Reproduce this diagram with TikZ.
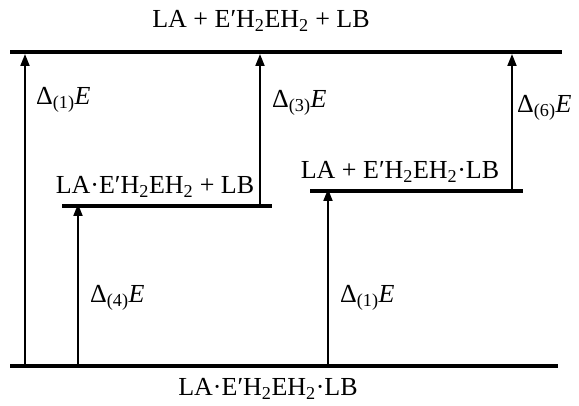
\documentclass[tikz,border=0pt]{standalone}
\usepackage{fontspec}
\setmainfont{Liberation Serif}
\usetikzlibrary{arrows.meta}
\newcommand{\sbs}[1]{\textsubscript{#1}}
\begin{document}
\begin{tikzpicture}[x=1pt,y=-1pt,
  level/.style={line width=3.5pt},
  trans/.style={line width=1.8pt,-{Triangle[length=12pt,width=9pt]}},
  lab/.style={font=\fontsize{26}{30}\selectfont,inner sep=0pt},
  elab/.style={font=\fontsize{26}{30}\selectfont,inner sep=0pt,anchor=west}]
\useasboundingbox (0,0) rectangle (579,406);
% levels
\coordinate (t1) at (10,52); \coordinate (t2) at (562,52);
\coordinate (b1) at (10,366); \coordinate (b2) at (558,366);
\coordinate (ml1) at (62,206); \coordinate (ml2) at (272,206);
\coordinate (mr1) at (310,191); \coordinate (mr2) at (523,191);
\draw[level] (t1) -- (t2);
\draw[level] (b1) -- (b2);
\draw[level] (ml1) -- (ml2);
\draw[level] (mr1) -- (mr2);
% arrow endpoints
\coordinate (a1s) at (25,364); \coordinate (a1e) at (25,54);
\coordinate (a4s) at (78,364); \coordinate (a4e) at (78,204);
\coordinate (a3s) at (260,204); \coordinate (a3e) at (260,54);
\coordinate (a1bs) at (328,364); \coordinate (a1be) at (328,189);
\coordinate (a6s) at (512,189); \coordinate (a6e) at (512,54);
\draw[trans] (a1s) -- (a1e);
\draw[trans] (a4s) -- (a4e);
\draw[trans] (a3s) -- (a3e);
\draw[trans] (a1bs) -- (a1be);
\draw[trans] (a6s) -- (a6e);
% labels
\node[lab] (top) at (261,21) {LA + E′H\sbs{2}EH\sbs{2} + LB};
\node[lab] (bot) at (268,389) {LA·E′H\sbs{2}EH\sbs{2}·LB};
\node[lab] (ml) at (155,187) {LA·E′H\sbs{2}EH\sbs{2} + LB};
\node[lab] (mr) at (400,172) {LA + E′H\sbs{2}EH\sbs{2}·LB};
\node[elab] (d1) at (36,100) {Δ\sbs{(1)}\textit{E}};
\node[elab] (d3) at (272,103) {Δ\sbs{(3)}\textit{E}};
\node[elab] (d6) at (517,108) {Δ\sbs{(6)}\textit{E}};
\node[elab] (d4) at (90,298) {Δ\sbs{(4)}\textit{E}};
\node[elab] (d1b) at (340,298) {Δ\sbs{(1)}\textit{E}};
\end{tikzpicture}
\end{document}
